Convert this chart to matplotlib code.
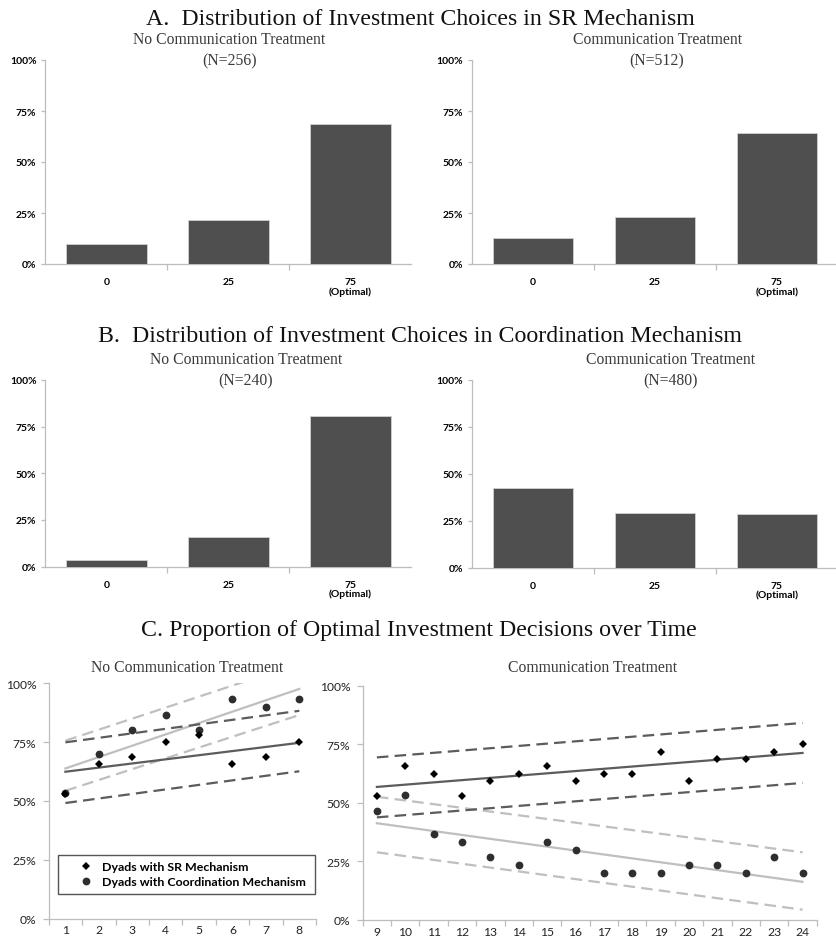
import matplotlib
matplotlib.use("Agg")
import matplotlib.pyplot as plt
import numpy as np
from matplotlib.ticker import PercentFormatter, FixedLocator
from matplotlib.lines import Line2D

# ---------------------------------------------------------------- data
choices = ["0", "25", "75\n(Optimal)"]

sr_nocomm_pct = [9.8, 21.5, 68.8]
sr_comm_pct = [12.9, 23.0, 64.1]
coord_nocomm_pct = [3.3, 15.8, 80.8]
coord_comm_pct = [42.3, 29.0, 28.8]

n_sr_nocomm, n_sr_comm = 256, 512
n_coord_nocomm, n_coord_comm = 240, 480

periods_nocomm = [1, 2, 3, 4, 5, 6, 7, 8]
sr_opt_nocomm = [53.1, 65.6, 68.8, 75.0, 78.1, 65.6, 68.8, 75.0]
coord_opt_nocomm = [53.3, 70.0, 80.0, 86.7, 80.0, 93.3, 90.0, 93.3]

periods_comm = [9, 10, 11, 12, 13, 14, 15, 16, 17, 18, 19, 20, 21, 22, 23, 24]
sr_opt_comm = [53.1, 65.6, 62.5, 53.1, 59.4, 62.5, 65.6, 59.4,
               62.5, 62.5, 71.9, 59.4, 68.8, 68.8, 71.9, 75.0]
coord_opt_comm = [46.7, 53.3, 36.7, 33.3, 26.7, 23.3, 33.3, 30.0,
                  20.0, 20.0, 20.0, 23.3, 23.3, 20.0, 26.7, 20.0]

# fitted trends (value at first and last period) with lower / upper bands
sr_fit_nocomm, sr_lo_nocomm, sr_hi_nocomm = [62.4, 74.7], [49.1, 62.6], [74.9, 88.3]
coord_fit_nocomm, coord_lo_nocomm, coord_hi_nocomm = [63.8, 97.6], [54.3, 86.5], [75.6, 108.4]
sr_fit_comm, sr_lo_comm, sr_hi_comm = [56.8, 71.3], [43.8, 58.5], [69.4, 84.1]
coord_fit_comm, coord_lo_comm, coord_hi_comm = [41.3, 16.3], [28.9, 4.4], [52.6, 28.9]

# ---------------------------------------------------------------- style
W, H, DPI = 837, 945, 100
SERIF = "Liberation Serif"
SANS = "Lato"
BAR_C = "#4f4f4f"
AXIS_C = "#bdbdbd"
DARK_LINE = "#5c5c5c"
LIGHT_LINE = "#bfbfbf"

fig = plt.figure(figsize=(W / DPI, H / DPI), dpi=DPI, facecolor="white")


def rect(x0, x1, ytop, ybot):
    return [x0 / W, 1 - ybot / H, (x1 - x0) / W, (ybot - ytop) / H]


def ftext(x, y, s, **kw):
    fig.text(x / W, 1 - y / H, s, **kw)


def style_axes(ax):
    for side in ("top", "right"):
        ax.spines[side].set_visible(False)
    for side in ("left", "bottom"):
        ax.spines[side].set_color(AXIS_C)
        ax.spines[side].set_linewidth(0.9)


def bar_panel(box, values):
    ax = fig.add_axes(rect(*box))
    style_axes(ax)
    x = np.arange(len(values))
    ax.bar(x, values, width=0.66, color=BAR_C, edgecolor="#d0d0d0",
           linewidth=0.6, zorder=3)
    ax.set_xlim(-0.5, len(values) - 0.5)
    ax.set_ylim(0, 100)
    ax.yaxis.set_major_locator(FixedLocator([0, 25, 50, 75, 100]))
    ax.yaxis.set_major_formatter(PercentFormatter(100, decimals=0))
    ax.set_xticks(x)
    ax.set_xticklabels(choices, fontfamily=SANS, fontweight="bold",
                       fontsize=7.5, linespacing=1.0)
    ax.xaxis.set_minor_locator(FixedLocator(x[:-1] + 0.5))
    ax.tick_params(axis="x", which="major", length=0, pad=9.5)
    ax.tick_params(axis="x", which="minor", length=4, color=AXIS_C, width=0.9)
    ax.tick_params(axis="y", length=3, color=AXIS_C, width=0.9, pad=3.5)
    for lab in ax.get_yticklabels():
        lab.set_fontfamily(SANS)
        lab.set_fontweight("bold")
        lab.set_fontsize(7.5)
    return ax


# ---------------------------------------------------------------- panels A and B
bar_panel((45.5, 411.5, 61, 265), sr_nocomm_pct)
bar_panel((472, 838, 61, 265), sr_comm_pct)
bar_panel((45.5, 411.5, 381, 567.5), coord_nocomm_pct)
bar_panel((472, 838, 381, 568.5), coord_comm_pct)

title_kw = dict(fontfamily=SERIF, fontsize=17.2, ha="center", va="baseline", color="#111111")
sub_kw = dict(fontfamily=SERIF, fontsize=11.3, ha="center", va="baseline", color="#3a3a3a")

ftext(420, 25, "A.  Distribution of Investment Choices in SR Mechanism", **title_kw)
ftext(229, 44, "No Communication Treatment", **sub_kw)
ftext(230, 65, f"(N={n_sr_nocomm})", **sub_kw)
ftext(658, 44, "Communication Treatment", **sub_kw)
ftext(657, 65, f"(N={n_sr_comm})", **sub_kw)

ftext(420, 342, "B.  Distribution of Investment Choices in Coordination Mechanism", **title_kw)
ftext(246, 364, "No Communication Treatment", **sub_kw)
ftext(246, 385, f"(N={n_coord_nocomm})", **sub_kw)
ftext(671, 364, "Communication Treatment", **sub_kw)
ftext(670, 385, f"(N={n_coord_comm})", **sub_kw)

ftext(419, 636, "C. Proportion of Optimal Investment Decisions over Time", **title_kw)
ftext(187, 672, "No Communication Treatment", **sub_kw)
ftext(593, 672, "Communication Treatment", **sub_kw)


# ---------------------------------------------------------------- panel C
def trend_panel(box, periods, sr_vals, coord_vals, sr_fit, sr_lo, sr_hi,
                co_fit, co_lo, co_hi):
    ax = fig.add_axes(rect(*box))
    style_axes(ax)
    ends = [periods[0], periods[-1]]
    dash = (0, (5.2, 2.8))
    ax.plot(ends, co_lo, color=LIGHT_LINE, lw=1.6, linestyle=dash, zorder=2)
    ax.plot(ends, co_hi, color=LIGHT_LINE, lw=1.6, linestyle=dash, zorder=2)
    ax.plot(ends, co_fit, color=LIGHT_LINE, lw=1.6, zorder=2)
    ax.plot(ends, sr_lo, color=DARK_LINE, lw=1.6, linestyle=dash, zorder=2)
    ax.plot(ends, sr_hi, color=DARK_LINE, lw=1.6, linestyle=dash, zorder=2)
    ax.plot(ends, sr_fit, color=DARK_LINE, lw=1.6, zorder=2)
    ax.plot(periods, coord_vals, "o", color="#2e2e2e", ms=5.6, mew=0, zorder=4)
    ax.plot(periods, sr_vals, "D", color="black", ms=4.2, mew=0, zorder=5)
    ax.set_xlim(periods[0] - 0.5, periods[-1] + 0.5)
    ax.set_ylim(0, 100)
    ax.yaxis.set_major_locator(FixedLocator([0, 25, 50, 75, 100]))
    ax.yaxis.set_major_formatter(PercentFormatter(100, decimals=0))
    ax.set_xticks(periods)
    ax.xaxis.set_minor_locator(FixedLocator(np.arange(periods[0] - 0.5, periods[-1] + 1, 1.0)))
    ax.tick_params(axis="x", which="major", length=0, pad=4, labelsize=8.7)
    ax.tick_params(axis="x", which="minor", length=4, color=AXIS_C, width=0.9)
    ax.tick_params(axis="y", length=4, color=AXIS_C, width=0.9, pad=5, labelsize=8.7)
    for lab in ax.get_xticklabels() + ax.get_yticklabels():
        lab.set_fontfamily(SANS)
        lab.set_color("#222222")
    return ax


ax_c1 = trend_panel((48.7, 316, 684.3, 919.5), periods_nocomm, sr_opt_nocomm,
                    coord_opt_nocomm, sr_fit_nocomm, sr_lo_nocomm, sr_hi_nocomm,
                    coord_fit_nocomm, coord_lo_nocomm, coord_hi_nocomm)
trend_panel((362.7, 816.7, 686.7, 921), periods_comm, sr_opt_comm,
            coord_opt_comm, sr_fit_comm, sr_lo_comm, sr_hi_comm,
            coord_fit_comm, coord_lo_comm, coord_hi_comm)

handles = [
    Line2D([], [], marker="D", color="black", linestyle="none", ms=4.2, mew=0),
    Line2D([], [], marker="o", color="#2e2e2e", linestyle="none", ms=5.6, mew=0),
]
leg = ax_c1.legend(
    handles, ["Dyads with SR Mechanism", "Dyads with Coordination Mechanism"],
    loc="lower left",
    bbox_to_anchor=(58 / W, 1 - 895 / H, (315 - 58) / W, (895 - 852.7) / H),
    bbox_transform=fig.transFigure, mode="expand", borderaxespad=0,
    fancybox=False, framealpha=1, edgecolor="#555555",
    prop={"family": SANS, "weight": "bold", "size": 8.9},
    handlelength=3.5, handletextpad=-0.5, borderpad=0.55, labelspacing=0.3,
)
leg.get_frame().set_linewidth(1.0)

fig.savefig("out.png", dpi=DPI, facecolor="white")
